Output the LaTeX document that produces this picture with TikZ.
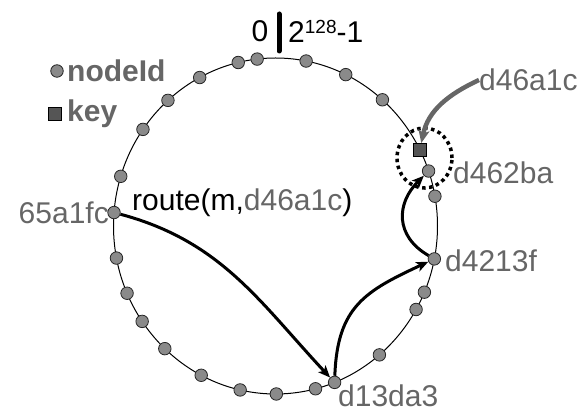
\documentclass[tikz,border=0pt]{standalone}
\usepackage{fontspec}
\setmainfont{Liberation Sans}
\usetikzlibrary{arrows.meta,calc,shapes.geometric}
\definecolor{lbl}{HTML}{666666}
\definecolor{nodefill}{HTML}{8A8A8A}
\definecolor{keyfill}{HTML}{555555}
\begin{document}
\begin{tikzpicture}[x=1pt,y=1pt,
  idnode/.style={circle,draw=black!85,fill=nodefill,line width=0.8pt,minimum size=12.5pt,inner sep=0pt},
  keynode/.style={rectangle,draw=black,fill=keyfill,line width=0.8pt,minimum size=12.5pt,inner sep=0pt},
  lbltext/.style={font=\fontsize{30}{36}\selectfont,text=lbl,inner sep=0pt},
  blktext/.style={font=\fontsize{30}{36}\selectfont,text=black,inner sep=0pt},
  hop/.style={line width=3pt,-{Stealth[length=12pt,width=10pt,inset=3pt]}}
]
\useasboundingbox (0,0) rectangle (582,412);
\coordinate (c) at (275.5,186);
\draw[line width=1pt] (c) ellipse [x radius=162, y radius=168];
% plain ring nodes
\foreach \a [count=\i] in {96.5,103.3,117.9,131.6,144.9,162.8,191,203.6,214.6,226.9,242.7,257.4,270.3,284.3,309.9,330.2,336.8,10.2,48.7,64.3,79.1}
  \node[idnode] (r\i) at ($(c)+(\a:162 and 168)$) {};
% named ring nodes
\node[idnode] (n65) at ($(c)+(175.4:162 and 168)$) {};
\node[idnode] (n13) at ($(c)+(291.4:162 and 168)$) {};
\node[idnode] (n42) at ($(c)+(348.7:162 and 168)$) {};
\node[idnode] (n46) at ($(c)+(19.1:162 and 168)$) {};
\node[keynode] (key) at ($(c)+(27:162 and 168)$) {};
% dotted ellipse round the key
\node[draw,ellipse,line width=3.5pt,dash pattern=on 3.5pt off 3.5pt,minimum width=55pt,minimum height=60pt,inner sep=0pt] (ring) at (424.5,254) {};
% top marker
\draw[line width=5pt,line cap=round] (279,398) -- (279,361);
\node[blktext,anchor=center] (zero) at (260,381) {0};
\node[blktext,anchor=west] (max) at (288,381) {2\raisebox{9pt}{\fontsize{19}{19}\selectfont 128}-1};
% legend
\node[idnode] (legn) at (57,341) {};
\node[lbltext,anchor=west,font=\fontsize{30}{36}\selectfont\bfseries] (legnt) at (67,341) {nodeId};
\node[keynode] (legk) at (55,298) {};
\node[lbltext,anchor=west,font=\fontsize{30}{36}\selectfont\bfseries] (legkt) at (67,298) {key};
% labels
\node[lbltext,anchor=east] (l65) at (109,199) {65a1fc};
\node[lbltext,anchor=west] (l13) at (338,16) {d13da3};
\node[lbltext,anchor=west] (l42) at (445,151) {d4213f};
\node[lbltext,anchor=west] (l46) at (453,239) {d462ba};
\node[lbltext,anchor=west] (lkey) at (479,332) {d46a1c};
\node[blktext,anchor=west] (route) at (132,209) {route(m,\textcolor{lbl}{d46a1c})};
% hops
\draw[hop] (n65) to[out=-15,in=133] (n13);
\draw[hop] (n13) to[out=88,in=205,looseness=1.2] (n42);
\draw[hop] (n42) to[out=150,in=225,looseness=1.25] (n46);
\draw[line width=4.5pt,draw=lbl,-{Stealth[length=13pt,width=11pt,inset=3pt]}] (lkey.west) to[out=205,in=78] (key);
\end{tikzpicture}
\end{document}
